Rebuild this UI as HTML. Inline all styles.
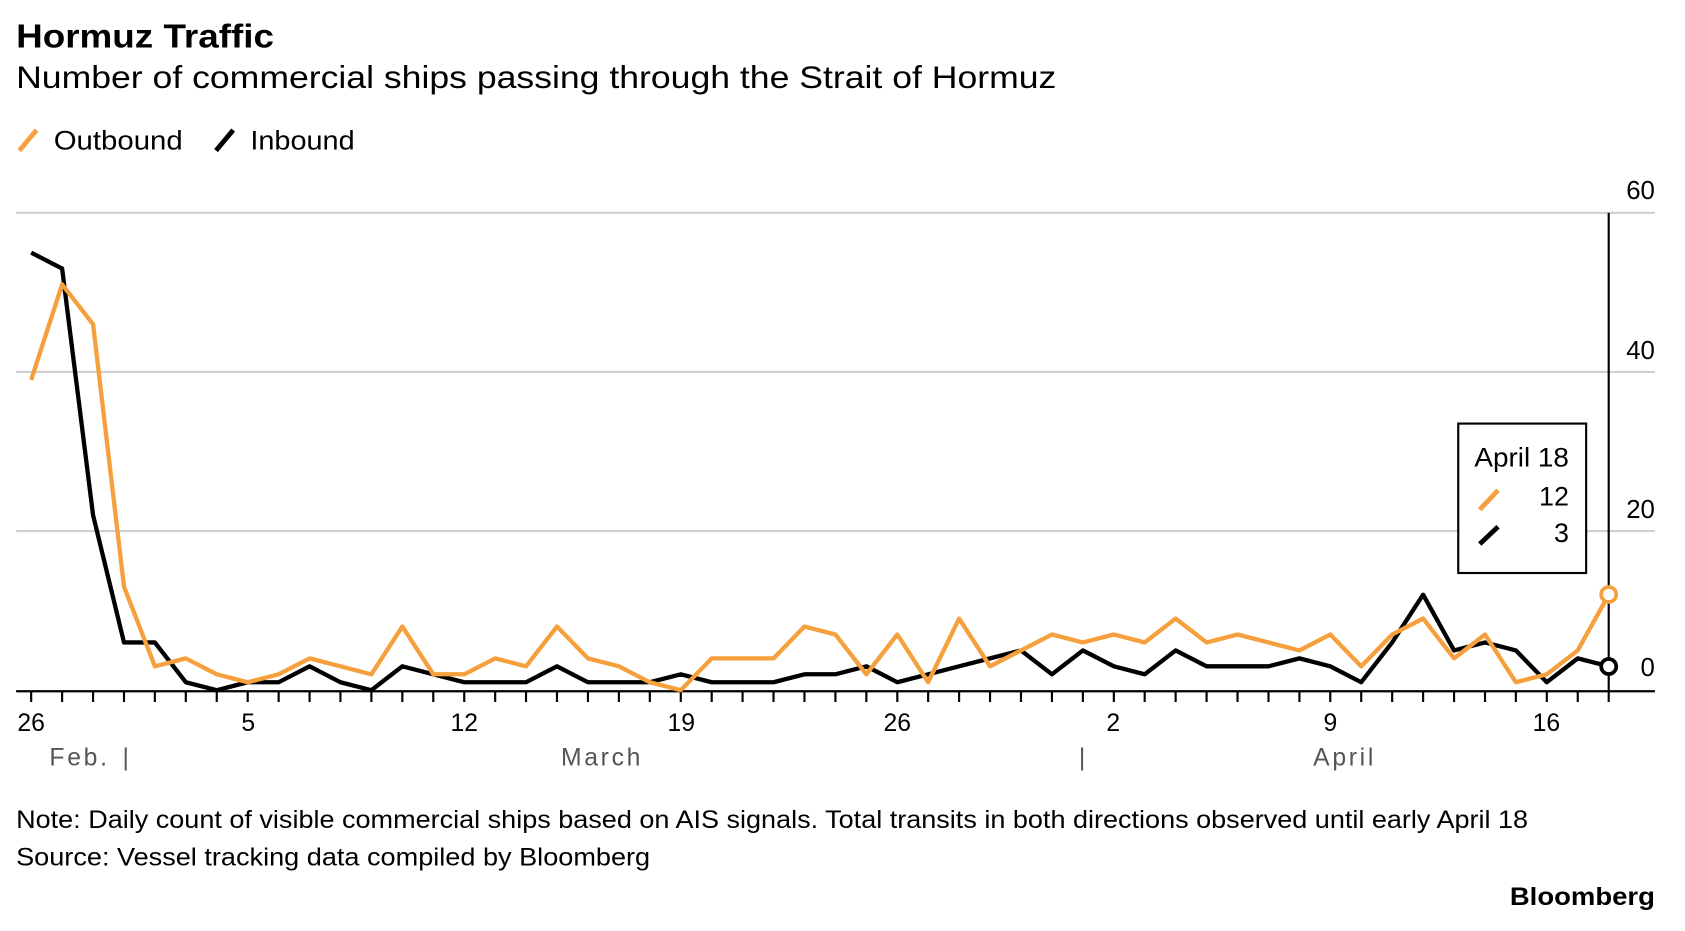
<!DOCTYPE html>
<html><head><meta charset="utf-8"><style>
html,body{margin:0;padding:0;background:#fff;}
svg{display:block;font-family:"Liberation Sans",Arial,sans-serif;}
</style></head><body>
<svg id="c" width="1685" height="931" viewBox="0 0 1568 866" preserveAspectRatio="none" xmlns="http://www.w3.org/2000/svg">
<text x="15" y="44" font-size="31" font-weight="bold" fill="#000" textLength="240" lengthAdjust="spacingAndGlyphs">Hormuz Traffic</text>
<text x="15" y="82" font-size="29" fill="#000" textLength="968" lengthAdjust="spacingAndGlyphs">Number of commercial ships passing through the Strait of Hormuz</text>
<line x1="18" y1="140" x2="34" y2="121" stroke="#f5a03c" stroke-width="4.5"/>
<text x="50" y="139" font-size="25" textLength="120" lengthAdjust="spacingAndGlyphs">Outbound</text>
<line x1="201" y1="140" x2="217" y2="121" stroke="#000" stroke-width="4.5"/>
<text x="233" y="139" font-size="25" textLength="97" lengthAdjust="spacingAndGlyphs">Inbound</text>
<g stroke="#cfcfcf" stroke-width="2">
<line x1="15" y1="198" x2="1540" y2="198"/>
<line x1="15" y1="346" x2="1540" y2="346"/>
<line x1="15" y1="494" x2="1540" y2="494"/>
</g>
<g font-size="24" text-anchor="end" fill="#000">
<text x="1540" y="185">60</text>
<text x="1540" y="334">40</text>
<text x="1540" y="482">20</text>
<text x="1540" y="629">0</text>
</g>
<line x1="1497" y1="198" x2="1497" y2="643" stroke="#000" stroke-width="2"/>
<line x1="15" y1="643" x2="1540" y2="643" stroke="#000" stroke-width="2"/>
<g id="ticks" stroke="#000" stroke-width="2"></g>
<g font-size="23" text-anchor="middle" fill="#000">
<text x="29" y="680">26</text><text x="231" y="680">5</text><text x="432" y="680">12</text>
<text x="634" y="680">19</text><text x="835" y="680">26</text><text x="1036" y="680">2</text>
<text x="1238" y="680">9</text><text x="1439" y="680">16</text>
</g>
<g font-size="23" fill="#555" letter-spacing="2.5">
<text x="46" y="712">Feb.</text>
<text x="114" y="712">|</text>
<text x="522" y="712">March</text>
<text x="1004" y="712">|</text>
<text x="1222" y="712">April</text>
</g>
<path id="pin" fill="none" stroke="#000" stroke-width="4" stroke-linejoin="round"/>
<path id="pout" fill="none" stroke="#f5a03c" stroke-width="4" stroke-linejoin="round"/>
<circle cx="1497" cy="553" r="7" fill="#fff" stroke="#f5a03c" stroke-width="3.5"/>
<circle cx="1497" cy="620" r="7" fill="#fff" stroke="#000" stroke-width="3.5"/>
<rect x="1357" y="394" width="119" height="139" fill="#fff" stroke="#000" stroke-width="2"/>
<text x="1372" y="434" font-size="25" textLength="88" lengthAdjust="spacingAndGlyphs">April 18</text>
<line x1="1377" y1="474" x2="1394" y2="456" stroke="#f5a03c" stroke-width="4.5"/>
<text x="1460" y="470" font-size="25" text-anchor="end">12</text>
<line x1="1377" y1="506" x2="1394" y2="490" stroke="#000" stroke-width="4.5"/>
<text x="1460" y="504" font-size="25" text-anchor="end">3</text>
<text x="15" y="770" font-size="23" textLength="1407" lengthAdjust="spacingAndGlyphs">Note: Daily count of visible commercial ships based on AIS signals. Total transits in both directions observed until early April 18</text>
<text x="15" y="805" font-size="23" textLength="590" lengthAdjust="spacingAndGlyphs">Source: Vessel tracking data compiled by Bloomberg</text>
<text x="1405" y="842" font-size="23" font-weight="bold" textLength="135" lengthAdjust="spacingAndGlyphs">Bloomberg</text>
</svg>
<script>
var out=[39,51,46,13,3,4,2,1,2,4,3,2,8,2,2,4,3,8,4,3,1,0,4,4,4,8,7,2,7,1,9,3,5,7,6,7,6,9,6,7,6,5,7,3,7,9,4,7,1,2,5,12];
var inb=[55,53,22,6,6,1,0,1,1,3,1,0,3,2,1,1,1,3,1,1,1,2,1,1,1,2,2,3,1,2,3,4,5,2,5,3,2,5,3,3,3,4,3,1,6,12,5,6,5,1,4,3];
var dx=(1497-29)/51;
function p(a){return a.map(function(v,i){return (i?'L':'M')+(29+i*dx).toFixed(1)+','+(642-v*7.4).toFixed(1)}).join('');}
document.getElementById('pout').setAttribute('d',p(out));
document.getElementById('pin').setAttribute('d',p(inb));
var t='';for(var i=0;i<52;i++){var x=(29+i*dx).toFixed(1);t+='<line x1="'+x+'" y1="643" x2="'+x+'" y2="653"/>';}
document.getElementById('ticks').innerHTML=t;
</script>
</body></html>
